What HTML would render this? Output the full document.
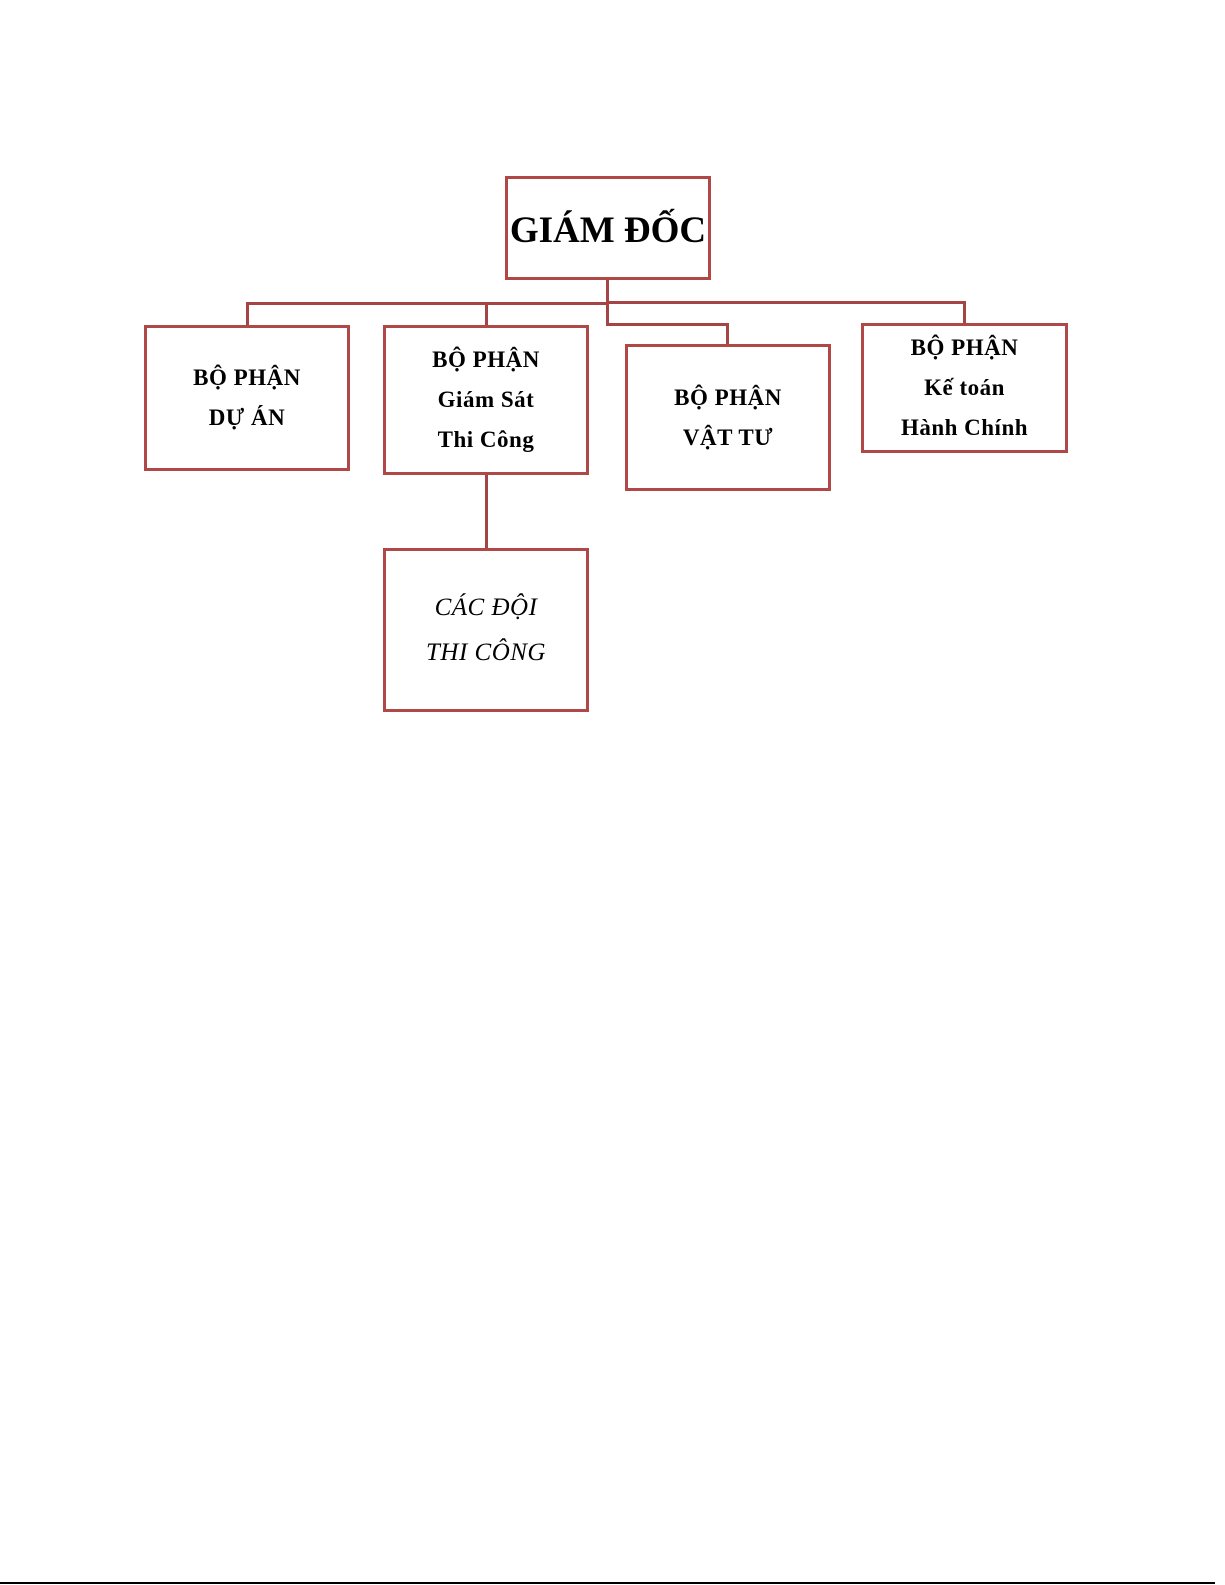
<!DOCTYPE html>
<html><head><meta charset="utf-8"><style>
html,body{margin:0;padding:0;background:#fff;}
body{width:1225px;height:1585px;position:relative;overflow:hidden;font-family:"Liberation Serif",serif;}
.b{position:absolute;box-sizing:border-box;border:3px solid #b04848;background:#fff;display:flex;flex-direction:column;justify-content:center;align-items:center;text-align:center;font-weight:bold;font-size:23px;letter-spacing:0.5px;color:#000;white-space:nowrap;}
.b div{line-height:40px;}
.l{position:absolute;background:#a54444;}
</style></head><body>
<div class="l" style="left:606px;top:279px;width:3px;height:46px"></div>
<div class="l" style="left:246px;top:302px;width:362px;height:3px"></div>
<div class="l" style="left:246px;top:302px;width:3px;height:25px"></div>
<div class="l" style="left:485px;top:302px;width:3px;height:25px"></div>
<div class="l" style="left:606px;top:301px;width:359px;height:3px"></div>
<div class="l" style="left:963px;top:301px;width:3px;height:24px"></div>
<div class="l" style="left:606px;top:323px;width:123px;height:3px"></div>
<div class="l" style="left:726px;top:323px;width:3px;height:23px"></div>
<div class="l" style="left:485px;top:473px;width:3px;height:77px"></div>

<div class="b" style="left:505px;top:176px;width:206px;height:104px;justify-content:flex-start;padding-top:30px;font-size:37px;letter-spacing:0;line-height:44px;">GIÁM ĐỐC</div>
<div class="b" style="left:144px;top:325px;width:206px;height:146px;"><div>BỘ PHẬN</div><div>DỰ ÁN</div></div>
<div class="b" style="left:383px;top:325px;width:206px;height:150px;"><div>BỘ PHẬN</div><div>Giám Sát</div><div>Thi Công</div></div>
<div class="b" style="left:625px;top:344px;width:206px;height:147px;"><div>BỘ PHẬN</div><div>VẬT TƯ</div></div>
<div class="b" style="left:861px;top:323px;width:207px;height:130px;"><div>BỘ PHẬN</div><div>Kế toán</div><div>Hành Chính</div></div>
<div class="b" style="left:383px;top:548px;width:206px;height:164px;font-weight:normal;font-style:italic;font-size:25px;"><div style="line-height:45px">CÁC ĐỘI</div><div style="line-height:45px">THI CÔNG</div></div>

<div class="l" style="left:0;top:1582px;width:1215px;height:2px;background:#000"></div>
</body></html>
